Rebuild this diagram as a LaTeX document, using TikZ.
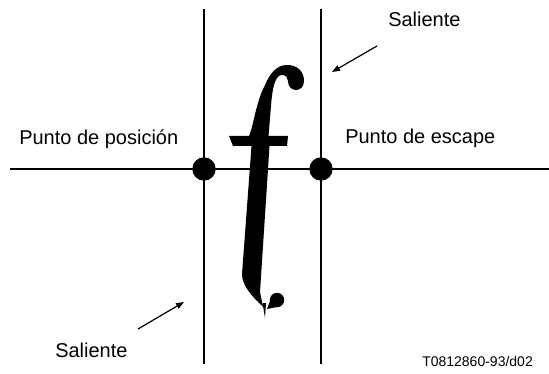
\documentclass[tikz,border=0pt]{standalone}
\usepackage{fontspec}
\setmainfont{Liberation Sans}
\usepackage{tikz}
\usetikzlibrary{arrows.meta}

\tikzset{
  rule/.style={line width=1.5},
  pointer/.style={line width=0.9, -{Triangle[length=6pt,width=4.5pt]}},
  spot/.style={circle, fill=black, inner sep=0pt, minimum size=17.5pt},
  label/.style={anchor=base west, inner sep=0pt, font=\fontsize{15}{18}\selectfont},
}

\begin{document}
\begin{tikzpicture}[x=0.75pt,y=0.75pt,yscale=-1,xscale=1]
\path[use as bounding box] (0,0) rectangle (549,374);

%Coordinates
\coordinate (hl) at (10,169);
\coordinate (hr) at (549,169);
\coordinate (lt) at (204,9);
\coordinate (lb) at (204,364);
\coordinate (rt) at (321,9);
\coordinate (rb) at (321,364);
\coordinate (topfrom) at (377,46);
\coordinate (topto) at (332,72);
\coordinate (botfrom) at (138,329);
\coordinate (botto) at (184,302);

%Straight Lines
\draw [rule] (hl) -- (hr) ;
\draw [rule] (lt) -- (lb) ;
\draw [rule] (rt) -- (rb) ;

%Shape: Letter f
\fill (263,307) .. controls (252,296) and (242,286) .. (242,274) -- (251.5,146) -- (233,146) -- (229,136) -- (249,136)
  .. controls (254,124) and (256,102) .. (265,85) .. controls (270,73) and (277,65) .. (287,65)
  .. controls (297,65) and (304,71) .. (304,81) .. controls (304,87) and (300,90) .. (296,90)
  .. controls (291,90) and (288,86) .. (288,81) .. controls (288,78) and (286,75) .. (282,75)
  .. controls (276,75) and (273,85) .. (271.5,100) -- (268.5,136) -- (288,136) -- (287,146) -- (269.5,146)
  -- (260,292) -- cycle ;
\fill (277,300) circle [radius=7.2] ;
\fill (270,301) -- (277,307) -- (267,309) -- cycle ;
\fill (262.5,303) -- (266,303) -- (265,318) -- cycle ;

%Dots
\node [spot] (pos) at (204,169) {};
\node [spot] (esc) at (321,169) {};

%Arrows
\draw [pointer] (topfrom) -- (topto) ;
\draw [pointer] (botfrom) -- (botto) ;

% Text Node
\node [label] (saltop) at (388,27) {Saliente};
% Text Node
\node [label] (postext) at (19,145) {Punto de posición};
% Text Node
\node [label] (esctext) at (345,144) {Punto de escape};
% Text Node
\node [label] (salbot) at (55,357) {Saliente};
% Text Node
\node [label, font=\fontsize{10.5}{12}\selectfont] (ref) at (422,366) {T0812860-93/d02};

\end{tikzpicture}
\end{document}
